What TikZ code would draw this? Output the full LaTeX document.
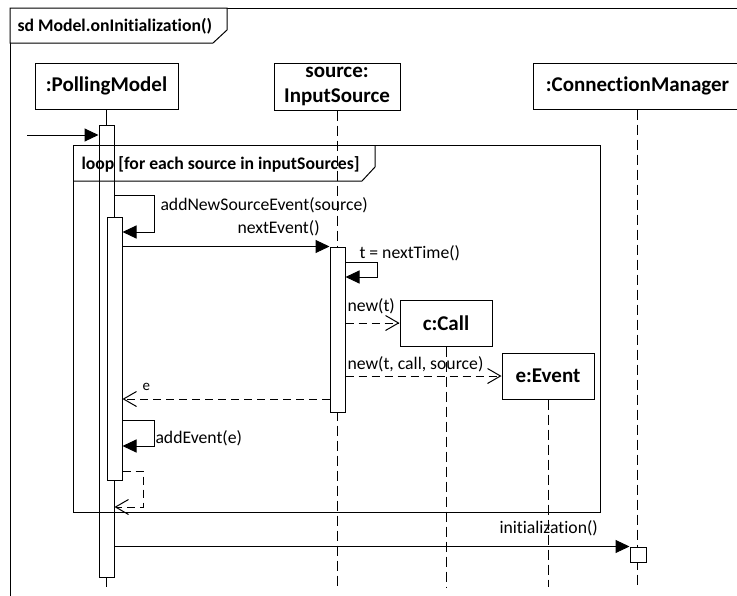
\documentclass[tikz,border=0pt]{standalone}
\usepackage{fontspec}
\setmainfont[Ligatures={NoCommon,NoRequired,NoContextual,NoDiscretionary}]{Carlito}
\usetikzlibrary{arrows.meta,calc}
\begin{document}
\begin{tikzpicture}[x=1pt,y=-1pt, line width=1pt,
  head/.style={draw, fill=white, font=\fontsize{21}{25}\selectfont\bfseries, align=center, inner sep=0pt},
  act/.style={draw, fill=white, minimum width=15pt, inner sep=0pt},
  life/.style={dash pattern=on 10pt off 5pt},
  msg/.style={-{Triangle[length=14pt,width=13pt]}},
  ret/.style={dash pattern=on 8pt off 5pt, -{Straight Barb[length=13pt,width=15pt]}},
  lbl/.style={font=\fontsize{17.7}{21}\selectfont, inner sep=0pt, anchor=west},
  slbl/.style={font=\fontsize{15}{18}\selectfont, inner sep=0pt, anchor=west},
  flbl/.style={font=\fontsize{17.7}{21}\selectfont\bfseries, inner sep=0pt, anchor=west}]
\useasboundingbox (0,0) rectangle (737,595);

% outer frame
\draw (10,8) rectangle (760,620);
\draw[fill=white] (10,8) -- (227,8) -- (227,30) -- (213,43) -- (10,43) -- cycle;
\node[flbl] (ftitle) at (17,26) {sd Model.onInitialization()};

% heads
\node[head, minimum width=143pt, minimum height=46pt] (pm) at (106.5,86) {:PollingModel};
\node[head, minimum width=126pt, minimum height=47pt] (is) at (337,86.5) {source:\\InputSource};
\node[head, minimum width=208pt, minimum height=46pt] (cm) at (637.5,86) {:ConnectionManager};
\node[head, minimum width=92pt, minimum height=46pt] (call) at (446,323) {c:Call};
\node[head, minimum width=92pt, minimum height=46pt] (event) at (548,376) {e:Event};

% lifelines
\draw (pm.south) -- (pm.south |- 0,587);
\draw[life] (is.south) -- (is.south |- 0,587);
\draw[life] (cm.south) -- (cm.south |- 0,587);
\draw[life] (call.south) -- (call.south |- 0,587);
\draw[life] (event.south) -- (event.south |- 0,587);

% activations
\node[act, minimum height=452pt] (act1) at (106.5,351) {};
\node[act, minimum height=263pt] (act2) at (114.5,348.5) {};
\node[act, minimum height=165pt] (isact) at (337.5,329.5) {};
\node[act, minimum width=16pt, minimum height=15pt] (cmact) at (638,554.5) {};

% loop fragment
\draw (73,145) rectangle (600,512);
\draw (73,181) -- (362,181) -- (375,167) -- (375,145);
\node[flbl] (ltitle) at (81,164) {loop [for each source in inputSources]};

% found message
\coordinate (start) at (27,135);
\draw[msg] (start) -- (act1.west |- start);

% addNewSourceEvent(source)
\draw[msg] (act1.east |- 0,195) -- (154,195) -- (154,232) -- (act2.east |- 0,232);
\node[lbl] (m1) at (160,205) {addNewSourceEvent(source)};

% nextEvent()
\draw[msg] (act2.east |- isact.north) -- (isact.north west);
\node[lbl] (m2) at (237,228) {nextEvent()};

% t = nextTime()
\draw[msg] (isact.east |- 0,262) -- (377,262) -- (377,277) -- (isact.east |- 0,277);
\node[lbl] (m3) at (359,253) {t = nextTime()};

% new(t)
\draw[ret] (isact.east |- call.west) -- (call.west);
\node[lbl] (m4) at (347,306) {new(t)};

% new(t, call, source)
\draw[ret] (isact.east |- event.west) -- (event.west);
\node[lbl] (m5) at (347,364) {new(t, call, source)};

% return e
\draw[ret] (isact.west |- 0,399) -- (act2.east |- 0,399);
\node[slbl] (m6) at (142,387) {e};

% addEvent(e)
\draw[msg] (act2.east |- 0,420) -- (154,420) -- (154,446) -- (act2.east |- 0,446);
\node[lbl] (m7) at (155,438) {addEvent(e)};

% return from addNewSourceEvent
\draw[ret] (act2.east |- 0,471) -- (143,471) -- (143,507) -- (act1.east |- 0,507);

% initialization()
\draw[msg] (act1.east |- cmact.north) -- (cmact.north west);
\node[lbl] (m8) at (499,528) {initialization()};
\end{tikzpicture}
\end{document}
